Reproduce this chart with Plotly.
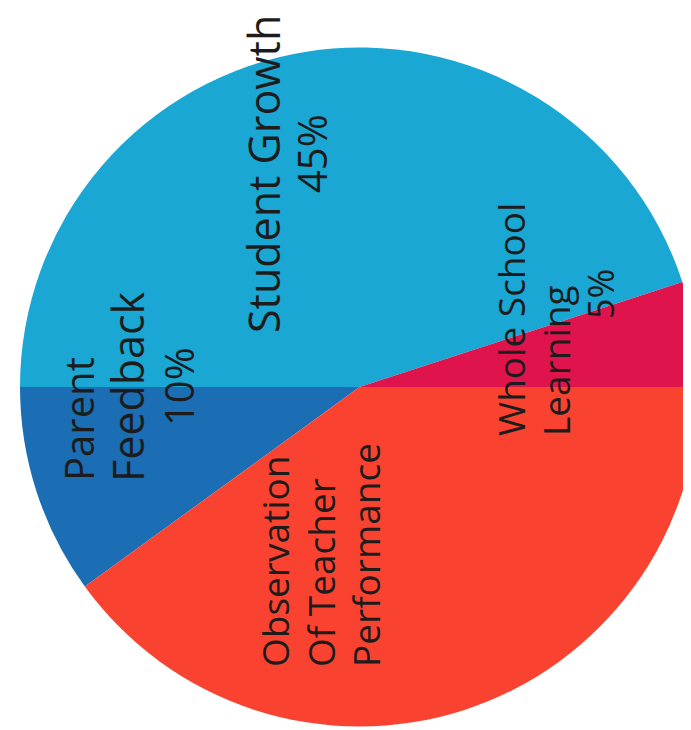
import plotly.graph_objects as go

# Data
categories = ["Student Growth", "Parent Feedback", "Observation Of Teacher Performance", "Whole School Learning"]
values = [45, 10, 40, 5]
colors = ["#1aa7d3", "#1b6db4", "#fa4230", "#e0144c"]

# Label lines (text) per category
label_lines = [
    ["Student Growth", "45%"],
    ["Parent", "Feedback", "10%"],
    ["Observation", "Of Teacher", "Performance"],
    ["Whole School", "Learning", "5%"],
]

W, H = 691, 730
DX, DY = -6, 1

# Styling: pixel centers and font sizes of each label line
line_style = [
    [(261, 165, 43), (310, 145, 40)],
    [(76, 410, 40), (125, 378, 43), (176, 378, 40)],
    [(272, 553, 37), (318, 564, 37), (363, 546, 37)],
    [(508, 310, 37), (553, 352, 37), (598, 285, 36)],
]

fig = go.Figure(go.Pie(
    labels=categories,
    values=values,
    sort=False,
    direction="counterclockwise",
    rotation=-90,
    marker=dict(colors=colors, line=dict(width=0)),
    textinfo="none",
    hoverinfo="skip",
    showlegend=False,
    domain=dict(x=[12 / W, 1.0], y=[1 - 720 / H, 1 - 38 / H]),
))

annotations = []
for lines, styles in zip(label_lines, line_style):
    for txt, (px, py, fs) in zip(lines, styles):
        annotations.append(dict(
            text=txt, x=(px + DX) / W, y=1 - (py + DY) / H, xref="paper", yref="paper",
            xanchor="center", yanchor="middle", showarrow=False, textangle=-90,
            font=dict(family="Open Sans", size=fs, color="#1c1c1c"),
        ))

fig.update_layout(
    width=W, height=H,
    margin=dict(l=0, r=0, t=0, b=0),
    paper_bgcolor="white", plot_bgcolor="white",
    annotations=annotations,
)

fig.write_html("out.html")
